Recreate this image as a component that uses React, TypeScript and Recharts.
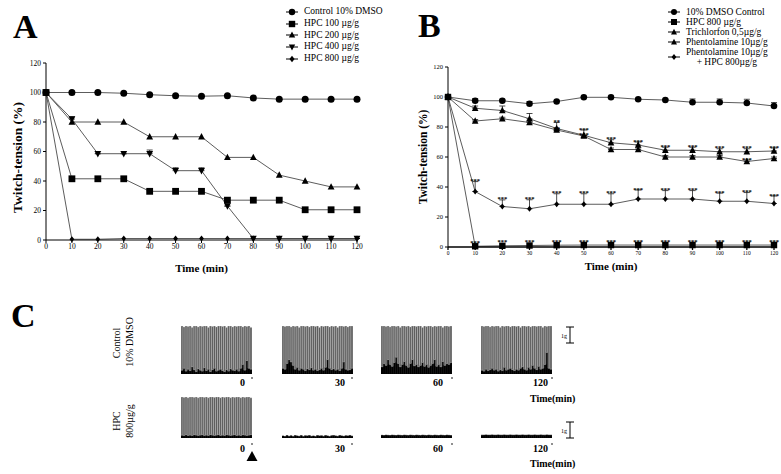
import React from 'react';
import {
	LineChart,
	Line,
	XAxis,
	YAxis,
	ErrorBar,
	LabelList,
	Legend,
	BarChart,
	Bar,
} from 'recharts';

// time points (min)
const minutes = [0, 10, 20, 30, 40, 50, 60, 70, 80, 90, 100, 110, 120];
const yTicks = [0, 20, 40, 60, 80, 100, 120];

// panel A
const aControl = [100, 100, 100, 99.5, 98.5, 97.8, 97.5, 97.8, 96.3, 95.5, 95.5, 95.5, 95.5];
const aHpc100 = [100, 41.5, 41.5, 41.5, 33, 33, 33, 27, 27, 27, 20.5, 20.5, 20.5];
const aHpc200 = [100, 80, 80, 80, 70, 70, 70, 56, 56, 44, 40, 36, 36];
const aHpc400 = [100, 82, 58.5, 58.5, 58.5, 47, 47, 23, 1, 1, 1, 1, 1];
const aHpc400Err = [0, 1.5, 0, 0, 2.5, 2, 2, 0, 0, 0, 0, 0, 0];
const aHpc800 = [100, 0.5, 0.5, 1, 1, 1, 1, 1, 1, 1, 1, 1, 1];

// panel B
const bControl = [100, 97.5, 97.5, 95.5, 97, 99.8, 99.8, 98.5, 98, 96.5, 96.5, 96, 94];
const bControlErr = [0, 1.5, 1, 1.5, 0.5, 0.5, 0.5, 0.5, 0.5, 2.2, 2.2, 2.5, 2.3];
const bHpc800 = [100, 0.5, 0.8, 1, 1.2, 1.3, 1.3, 1.3, 1.3, 1.3, 1.3, 1.3, 1.3];
const bHpc800Stars = ['', '***', '***', '***', '***', '***', '***', '***', '***', '***', '***', '***', '***'];
const bTrichlorfon = [100, 92.5, 91, 85.5, 79, 74.5, 69.5, 68, 64.5, 64.5, 63.5, 63.5, 64];
const bTrichErr = [0, 1.5, 3, 3.5, 4, 3.5, 2, 2, 2, 2, 2, 2, 2];
const bTrichStars = ['', '', '', '', '**', '***', '***', '***', '***', '***', '***', '***', '***'];
const bPhentolamine = [100, 84, 85.5, 83, 78, 74, 65, 65, 60, 60, 60, 57, 59];
const bPhentErr = [0, 1, 1, 1, 0.5, 0.3, 1, 1, 1, 1, 1, 1, 1];
const bPhentStars = ['', '', '', '', '**', '***', '', '', '', '', '', '***', ''];
const bCombo = [100, 37, 27, 25.5, 28.5, 28.5, 28.5, 32, 32, 32, 30.5, 30.5, 29];
const bComboErr = [0, 6.6, 4.4, 6, 7, 7, 7, 6, 5.6, 5.6, 5.4, 5.8, 5];
const bComboStars = ['', '***', '***', '***', '***', '***', '***', '***', '***', '***', '***', '***', '***'];

// panel C traces (relative twitch height: peak and resting baseline per twitch)
const c0Spikes = [1, 0.98, 1, 0.99, 1, 0.97, 1, 1, 0.98, 1, 0.99, 1, 1, 0.97, 1, 0.99, 1, 0.98, 1, 1, 0.99, 1, 0.97, 1, 1, 0.98, 1, 0.99, 1, 1, 0.98, 1, 0.99, 1, 0.97];
const c0Base = [0.08, 0.12, 0.06, 0.1, 0.07, 0.15, 0.09, 0.05, 0.11, 0.08, 0.06, 0.13, 0.07, 0.1, 0.05, 0.09, 0.12, 0.06, 0.08, 0.1, 0.07, 0.05, 0.09, 0.06, 0.11, 0.08, 0.07, 0.1, 0.06, 0.12, 0.2, 0.08, 0.28, 0.12, 0.1];
const c30Spikes = [1, 0.99, 1, 1, 0.98, 1, 0.99, 1, 0.97, 1, 1, 0.99, 1, 0.98, 1, 1, 0.99, 1, 0.97, 1, 0.99, 1, 1, 0.98, 1, 0.99, 1, 0.97, 1, 1, 0.99, 1, 0.98, 1, 1];
const c30Base = [0.12, 0.1, 0.22, 0.3, 0.25, 0.18, 0.1, 0.14, 0.08, 0.12, 0.1, 0.07, 0.11, 0.09, 0.13, 0.08, 0.1, 0.07, 0.09, 0.12, 0.08, 0.14, 0.3, 0.12, 0.09, 0.11, 0.08, 0.1, 0.07, 0.12, 0.25, 0.1, 0.08, 0.09, 0.12];
const c60Spikes = [1, 1, 0.99, 1, 0.98, 1, 1, 0.99, 1, 0.97, 1, 1, 0.99, 1, 0.98, 1, 1, 0.99, 1, 1, 0.97, 1, 0.99, 1, 1, 0.98, 1, 0.99, 1, 1, 0.97, 1, 1, 0.99, 1];
const c60Base = [0.15, 0.22, 0.18, 0.3, 0.2, 0.16, 0.24, 0.35, 0.22, 0.15, 0.2, 0.26, 0.18, 0.14, 0.22, 0.3, 0.17, 0.2, 0.15, 0.18, 0.24, 0.16, 0.2, 0.14, 0.18, 0.22, 0.3, 0.16, 0.2, 0.15, 0.26, 0.18, 0.22, 0.2, 0.24];
const c120Spikes = [1, 0.99, 1, 1, 0.98, 1, 0.99, 1, 1, 0.97, 1, 0.99, 1, 1, 0.98, 1, 1, 0.99, 1, 0.97, 1, 1, 0.99, 1, 0.98, 1, 1, 0.99, 1, 1, 0.97, 1, 0.99, 1, 1];
const c120Base = [0.08, 0.06, 0.1, 0.07, 0.09, 0.12, 0.08, 0.1, 0.06, 0.09, 0.07, 0.14, 0.08, 0.1, 0.12, 0.09, 0.07, 0.1, 0.08, 0.12, 0.15, 0.1, 0.08, 0.14, 0.1, 0.18, 0.12, 0.09, 0.16, 0.1, 0.12, 0.2, 0.45, 0.12, 0.1];
const h0Spikes = [1, 0.99, 1, 0.98, 1, 1, 0.99, 1, 0.98, 1, 1, 0.99, 1, 0.98, 1, 1, 0.99, 1, 1, 0.98, 1, 0.99, 1, 1, 0.98, 1, 0.99, 1, 1, 0.98, 1, 0.99, 1, 1, 0.98];
const h0Base = [0.07, 0.06, 0.08, 0.06, 0.07, 0.06, 0.08, 0.07, 0.06, 0.07, 0.08, 0.06, 0.07, 0.06, 0.08, 0.07, 0.06, 0.07, 0.08, 0.06, 0.07, 0.06, 0.08, 0.07, 0.06, 0.07, 0.08, 0.06, 0.07, 0.06, 0.08, 0.07, 0.06, 0.07, 0.08];
const h30Base = [0.05, 0.035, 0.06, 0.04, 0.055, 0.035, 0.06, 0.05, 0.04, 0.06, 0.035, 0.055, 0.05, 0.06, 0.04, 0.05, 0.035, 0.06, 0.05, 0.055, 0.04, 0.06, 0.05, 0.035, 0.055, 0.06, 0.05, 0.04, 0.06, 0.05, 0.04, 0.055, 0.05, 0.06, 0.045];
const h60Base = [0.065, 0.06, 0.07, 0.065, 0.06, 0.07, 0.065, 0.06, 0.07, 0.065, 0.06, 0.07, 0.065, 0.06, 0.07, 0.065, 0.06, 0.07, 0.065, 0.06, 0.07, 0.065, 0.06, 0.07, 0.065, 0.06, 0.07, 0.065, 0.06, 0.07, 0.065, 0.06, 0.07, 0.065, 0.06];
const h120Base = [0.07, 0.07, 0.075, 0.07, 0.07, 0.075, 0.07, 0.07, 0.075, 0.07, 0.07, 0.075, 0.07, 0.07, 0.075, 0.07, 0.07, 0.075, 0.07, 0.07, 0.075, 0.07, 0.07, 0.075, 0.07, 0.07, 0.075, 0.07, 0.07, 0.075, 0.07, 0.07, 0.075, 0.07, 0.07];

const legendA = [
	{ label: 'Control 10% DMSO', shape: 'circle' },
	{ label: 'HPC 100 µg/g', shape: 'square' },
	{ label: 'HPC 200 µg/g', shape: 'up' },
	{ label: 'HPC 400 µg/g', shape: 'down' },
	{ label: 'HPC 800 µg/g', shape: 'diamond' },
];
const legendB = [
	{ label: '10% DMSO Control', shape: 'circle' },
	{ label: 'HPC 800 µg/g', shape: 'square' },
	{ label: 'Trichlorfon 0,5µg/g', shape: 'up' },
	{ label: 'Phentolamine 10µg/g', shape: 'up' },
	{ label: 'Phentolamine 10µg/g\n+ HPC 800µg/g', shape: 'diamond' },
];

const FONT = '"Liberation Serif", "Times New Roman", serif';
const LINE = '#4a4a4a';

function Marker({ cx, cy, shape, r }: any) {
	if (cx == null || cy == null) return null;
	switch (shape) {
		case 'circle':
			return <circle cx={cx} cy={cy} r={r} fill='#000' />;
		case 'square':
			return <rect x={cx - r} y={cy - r} width={r * 2} height={r * 2} fill='#000' />;
		case 'up':
			return (
				<polygon
					points={`${cx},${cy - r * 1.1} ${cx + r},${cy + r * 0.8} ${cx - r},${cy + r * 0.8}`}
					fill='#000'
				/>
			);
		case 'down':
			return (
				<polygon
					points={`${cx},${cy + r * 1.1} ${cx + r},${cy - r * 0.8} ${cx - r},${cy - r * 0.8}`}
					fill='#000'
				/>
			);
		default:
			return (
				<polygon
					points={`${cx},${cy - r} ${cx + r * 0.8},${cy} ${cx},${cy + r} ${cx - r * 0.8},${cy}`}
					fill='#000'
				/>
			);
	}
}

const dotOf = (shape: string, r: number) => (p: any) => (
	<Marker key={`${shape}-${p.index}`} cx={p.cx} cy={p.cy} shape={shape} r={r} />
);

const legendContent = (items: any[], rowH: number, r: number) => () => (
	<div style={{ fontSize: 9.5, color: '#000', fontFamily: FONT }}>
		{items.map((it) => {
			const lines = it.label.split('\n');
			const h = rowH * lines.length;
			return (
				<div key={it.label} style={{ display: 'flex', alignItems: 'center', height: h }}>
					<svg width={16} height={10} style={{ marginRight: 3, flex: 'none' }}>
						<line x1={1} y1={5} x2={13} y2={5} stroke='#000' strokeWidth={1} />
						<Marker cx={7} cy={5} shape={it.shape} r={r} />
					</svg>
					<div style={{ textAlign: 'center', lineHeight: `${rowH}px`, whiteSpace: 'nowrap' }}>
						{lines.map((l: string) => (
							<div key={l}>{l}</div>
						))}
					</div>
				</div>
			);
		})}
	</div>
);

const starContent = (errs: number[], pxPerUnit: number) => (p: any) => {
	const { x, y, value, index } = p;
	if (!value) return null;
	return (
		<text
			key={`s-${index}`}
			x={x}
			y={y - errs[index] * pxPerUnit + 1.5}
			textAnchor='middle'
			fontSize={6.5}
			fontWeight='bold'
			fill='#000'
		>
			{value}
		</text>
	);
};

const dataA = minutes.map((m, i) => ({
	min: m,
	control: aControl[i],
	hpc100: aHpc100[i],
	hpc200: aHpc200[i],
	hpc400: aHpc400[i],
	hpc800: aHpc800[i],
	err400: [0, aHpc400Err[i]],
}));

const dataB = minutes.map((m, i) => ({
	min: m,
	control: bControl[i],
	errControl: [0, bControlErr[i]],
	hpc800: bHpc800[i],
	starsHpc: bHpc800Stars[i],
	trich: bTrichlorfon[i],
	errTrich: [0, bTrichErr[i]],
	starsTrich: bTrichStars[i],
	phent: bPhentolamine[i],
	errPhent: [0, bPhentErr[i]],
	starsPhent: bPhentStars[i],
	combo: bCombo[i],
	errCombo: [0, bComboErr[i]],
	starsCombo: bComboStars[i],
}));

function PanelA() {
	return (
		<LineChart
			width={390}
			height={280}
			data={dataA}
			margin={{ top: 63, right: 33, bottom: 0, left: 0 }}
		>
			<XAxis
				dataKey='min'
				type='number'
				domain={[0, 120]}
				ticks={minutes}
				tickSize={3}
				tickMargin={1}
				height={40}
				stroke='#000'
				tick={{ fontSize: 7.5, fill: '#000' }}
				label={{ value: 'Time (min)', position: 'insideBottom', offset: 8, fontSize: 11, fontWeight: 'bold', fill: '#000' }}
			/>
			<YAxis
				domain={[0, 120]}
				ticks={yTicks}
				tickSize={3}
				tickMargin={2}
				width={46}
				stroke='#000'
				tick={{ fontSize: 7.5, fill: '#000' }}
				label={{ value: 'Twitch-tension (%)', angle: -90, position: 'insideLeft', offset: 17, dy: 6, fontSize: 13.5, fontWeight: 'bold', fill: '#000', style: { textAnchor: 'middle' } }}
			/>
			<Legend
				layout='vertical'
				align='center'
				verticalAlign='middle'
				wrapperStyle={{ left: 285, top: 6 }}
				content={legendContent(legendA, 11.8, 3.2)}
			/>
			<Line dataKey='control' stroke={LINE} strokeWidth={0.9} dot={dotOf('circle', 3.5)} activeDot={false} isAnimationActive={false} />
			<Line dataKey='hpc100' stroke={LINE} strokeWidth={0.9} dot={dotOf('square', 3.4)} activeDot={false} isAnimationActive={false} />
			<Line dataKey='hpc200' stroke={LINE} strokeWidth={0.9} dot={dotOf('up', 3.4)} activeDot={false} isAnimationActive={false} />
			<Line dataKey='hpc400' stroke={LINE} strokeWidth={0.9} dot={dotOf('down', 3.4)} activeDot={false} isAnimationActive={false}>
				<ErrorBar dataKey='err400' direction='y' width={3} stroke='#000' strokeWidth={0.7} />
			</Line>
			<Line dataKey='hpc800' stroke={LINE} strokeWidth={0.9} dot={dotOf('diamond', 3)} activeDot={false} isAnimationActive={false} />
		</LineChart>
	);
}

const PX_B = 180 / 120;

function PanelB() {
	return (
		<LineChart
			width={391}
			height={280}
			data={dataB}
			margin={{ top: 67, right: 7, bottom: 0, left: 0 }}
		>
			<XAxis
				dataKey='min'
				type='number'
				domain={[0, 120]}
				ticks={minutes}
				tickSize={3}
				tickMargin={1}
				height={33}
				stroke='#000'
				strokeWidth={1.3}
				tick={{ fontSize: 5.5, fill: '#000' }}
				label={{ value: 'Time (min)', position: 'insideBottom', offset: 10, fontSize: 11, fontWeight: 'bold', fill: '#000' }}
			/>
			<YAxis
				domain={[0, 120]}
				ticks={yTicks}
				tickSize={3}
				tickMargin={2}
				width={58}
				stroke='#000'
				tick={{ fontSize: 6.5, fill: '#000' }}
				label={{ value: 'Twitch-tension (%)', angle: -90, position: 'insideLeft', offset: 33, fontSize: 11.5, fontWeight: 'bold', fill: '#000', style: { textAnchor: 'middle' } }}
			/>
			<Legend
				layout='vertical'
				align='center'
				verticalAlign='middle'
				wrapperStyle={{ left: 277, top: 7 }}
				content={legendContent(legendB, 10, 3)}
			/>
			<Line dataKey='control' stroke={LINE} strokeWidth={0.9} dot={dotOf('circle', 3.3)} activeDot={false} isAnimationActive={false}>
				<ErrorBar dataKey='errControl' direction='y' width={3} stroke='#000' strokeWidth={0.7} />
			</Line>
			<Line dataKey='trich' stroke={LINE} strokeWidth={0.9} dot={dotOf('up', 3.3)} activeDot={false} isAnimationActive={false}>
				<ErrorBar dataKey='errTrich' direction='y' width={3} stroke='#000' strokeWidth={0.7} />
				<LabelList dataKey='starsTrich' content={starContent(bTrichErr, PX_B)} />
			</Line>
			<Line dataKey='phent' stroke={LINE} strokeWidth={0.9} dot={dotOf('up', 3.3)} activeDot={false} isAnimationActive={false}>
				<ErrorBar dataKey='errPhent' direction='y' width={3} stroke='#000' strokeWidth={0.7} />
				<LabelList dataKey='starsPhent' content={starContent(bPhentErr, PX_B)} />
			</Line>
			<Line dataKey='combo' stroke={LINE} strokeWidth={0.9} dot={dotOf('diamond', 3)} activeDot={false} isAnimationActive={false}>
				<ErrorBar dataKey='errCombo' direction='y' width={3} stroke='#000' strokeWidth={0.7} />
				<LabelList dataKey='starsCombo' content={starContent(bComboErr, PX_B)} />
			</Line>
			<Line dataKey='hpc800' stroke={LINE} strokeWidth={0.9} dot={dotOf('square', 3.2)} activeDot={false} isAnimationActive={false}>
				<LabelList dataKey='starsHpc' content={starContent(bHpc800Stars.map(() => 2), PX_B)} />
			</Line>
		</LineChart>
	);
}

// each twitch: black resting part stacked under the grey contraction
function Trace({ spikes, base, left, top, width, height }: any) {
	const data = base.map((b: number, i: number) => ({
		i,
		base: b,
		rise: spikes ? Math.max(spikes[i] - b, 0) : 0,
	}));
	return (
		<div style={{ position: 'absolute', left, top }}>
			<BarChart
				width={width}
				height={height}
				data={data}
				margin={{ top: 0, right: 0, bottom: 0, left: 0 }}
				barCategoryGap={0}
			>
				<XAxis dataKey='i' hide />
				<YAxis domain={[0, 1]} hide />
				<Bar dataKey='base' stackId='t' fill='#000' stroke='#000' strokeWidth={0.5} isAnimationActive={false} />
				<Bar
					dataKey='rise'
					stackId='t'
					fill='#5e5e5e'
					stroke='#d6d6d6'
					strokeWidth={0.3}
					isAnimationActive={false}
				/>
			</BarChart>
		</div>
	);
}

const ctrlTop = 326;
const ctrlH = 48;
const hpcTop = 397;
const hpcH = 41;

function Annotations() {
	const t = { fontFamily: FONT, fill: '#000' } as any;
	return (
		<svg
			width={781}
			height={474}
			style={{ position: 'absolute', left: 0, top: 0, pointerEvents: 'none' }}
		>
			<text x={13} y={38} fontSize={34} fontWeight='bold' {...t}>A</text>
			<text x={418} y={37} fontSize={34} fontWeight='bold' {...t}>B</text>
			<text x={11} y={327} fontSize={34} fontWeight='bold' {...t}>C</text>

			<text transform='translate(120,343) rotate(-90)' textAnchor='middle' fontSize={10} {...t}>Control</text>
			<text transform='translate(133,342) rotate(-90)' textAnchor='middle' fontSize={10} {...t}>10% DMSO</text>
			<text transform='translate(120,421) rotate(-90)' textAnchor='middle' fontSize={10} {...t}>HPC</text>
			<text transform='translate(133,421) rotate(-90)' textAnchor='middle' fontSize={10} {...t}>800µg/g</text>

			{[['0', 245, 252], ['30', 345, 352], ['60', 443, 452], ['120', 548, 552]].map(([l, x, d]) => (
				<g key={`c-${l}`}>
					<text x={x as number} y={386} textAnchor='end' fontSize={10} fontWeight='bold' {...t}>{l}</text>
					<circle cx={d as number} cy={378} r={0.8} fill='#000' />
					<text x={x as number} y={452} textAnchor='end' fontSize={10} fontWeight='bold' {...t}>{l}</text>
					<circle cx={d as number} cy={444} r={0.8} fill='#000' />
				</g>
			))}
			<text x={530} y={402} fontSize={10} fontWeight='bold' {...t}>Time(min)</text>
			<text x={530} y={467} fontSize={10} fontWeight='bold' {...t}>Time(min)</text>

			<polygon points='252,451 257.5,461 246.5,461' fill='#000' />

			<text x={561} y={338} fontSize={6} {...t}>1g</text>
			<line x1={570} y1={327} x2={570} y2={343} stroke='#000' strokeWidth={1} />
			<line x1={566} y1={327} x2={574} y2={327} stroke='#000' strokeWidth={1} />
			<line x1={566} y1={343} x2={574} y2={343} stroke='#000' strokeWidth={1} />
			<text x={561} y={433} fontSize={6} {...t}>1g</text>
			<line x1={570} y1={422} x2={570} y2={438} stroke='#000' strokeWidth={1} />
			<line x1={566} y1={422} x2={574} y2={422} stroke='#000' strokeWidth={1} />
			<line x1={566} y1={438} x2={574} y2={438} stroke='#000' strokeWidth={1} />
		</svg>
	);
}

export default function App() {
	return (
		<div
			style={{
				position: 'absolute',
				left: 0,
				top: 0,
				width: 781,
				height: 474,
				background: '#fff',
				fontFamily: FONT,
				overflow: 'hidden',
			}}
		>
			<div style={{ position: 'absolute', left: 0, top: 0 }}>
				<PanelA />
			</div>
			<div style={{ position: 'absolute', left: 390, top: 0 }}>
				<PanelB />
			</div>

			<Trace spikes={c0Spikes} base={c0Base} left={181} top={ctrlTop} width={71} height={ctrlH} />
			<Trace spikes={c30Spikes} base={c30Base} left={282} top={ctrlTop} width={71} height={ctrlH} />
			<Trace spikes={c60Spikes} base={c60Base} left={381} top={ctrlTop} width={71} height={ctrlH} />
			<Trace spikes={c120Spikes} base={c120Base} left={481} top={ctrlTop} width={71} height={ctrlH} />

			<Trace spikes={h0Spikes} base={h0Base} left={181} top={hpcTop} width={71} height={hpcH} />
			<Trace base={h30Base} left={282} top={hpcTop} width={71} height={hpcH} />
			<Trace base={h60Base} left={381} top={hpcTop} width={71} height={hpcH} />
			<Trace base={h120Base} left={481} top={hpcTop} width={71} height={hpcH} />

			<Annotations />
		</div>
	);
}
